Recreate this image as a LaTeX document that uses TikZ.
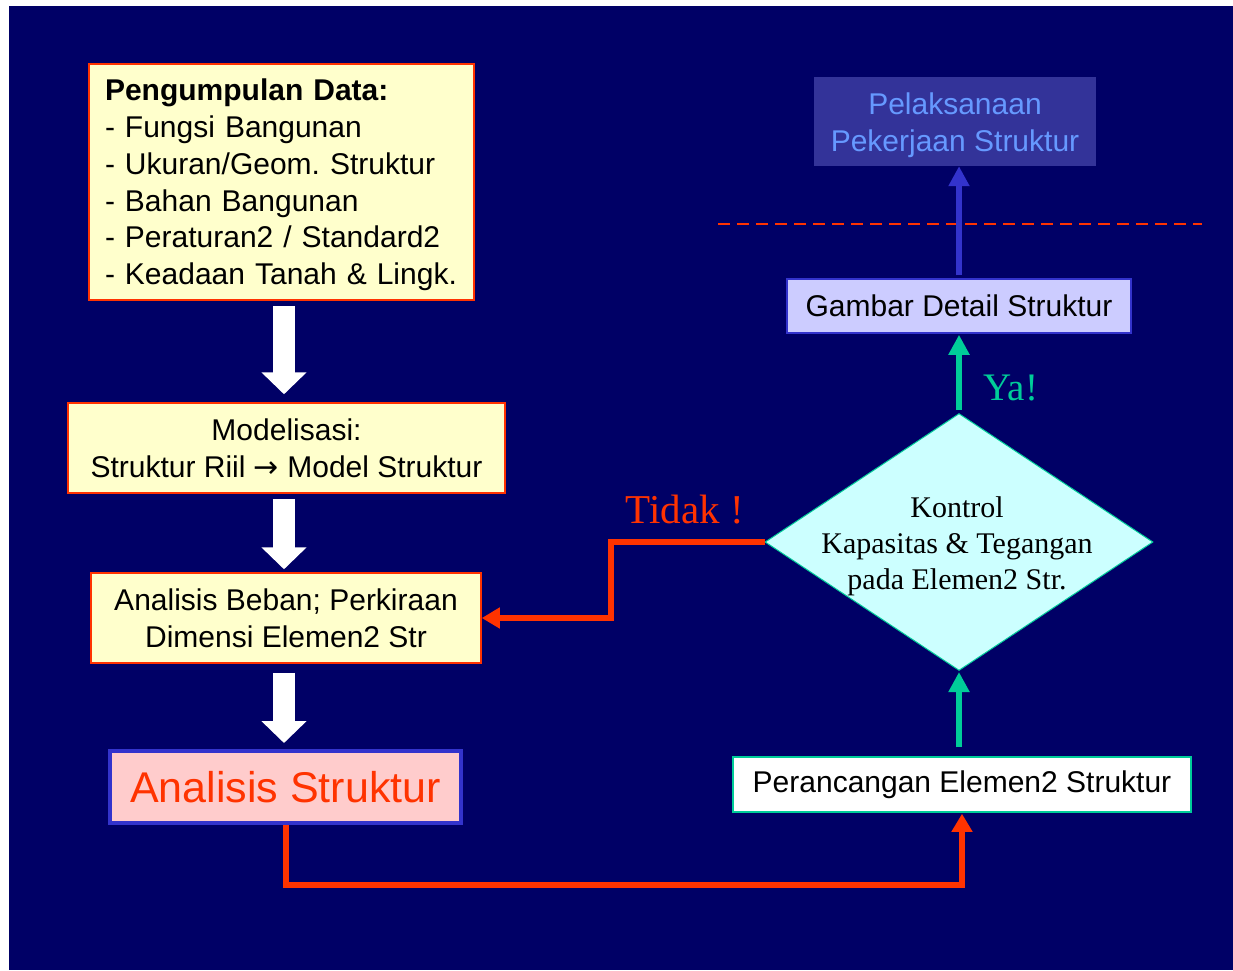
\documentclass[tikz,border=0pt]{standalone}
\usepackage{fontspec}
\setmainfont{Liberation Sans}
\newfontfamily\tnr{Liberation Serif}
\newfontfamily\djv{DejaVu Sans}
\usetikzlibrary{shapes.geometric,arrows.meta,calc}
\frenchspacing
\definecolor{navy}{HTML}{000066}
\definecolor{orred}{HTML}{FF3300}
\definecolor{lyellow}{HTML}{FFFFCC}
\definecolor{lpink}{HTML}{FFCCCC}
\definecolor{bblue}{HTML}{3333CC}
\definecolor{dblue}{HTML}{333399}
\definecolor{tblue}{HTML}{6699FF}
\definecolor{lviolet}{HTML}{CCCCFF}
\definecolor{lcyan}{HTML}{CCFFFF}
\definecolor{tgreen}{HTML}{00CC99}
\tikzset{
  ybox/.style={draw=orred, fill=lyellow, line width=1.5pt, inner sep=0pt, align=center,
    font=\fontsize{30}{36.8}\selectfont},
  bigwhite/.style={white, line width=22pt, -{Triangle[length=22pt,width=44pt]}},
  redln/.style={orred, line width=6pt, -{Triangle[length=18pt,width=20pt]}},
  grarrow/.style={tgreen, line width=6pt, -{Triangle[length=20pt,width=20pt]}},
  blarrow/.style={bblue, line width=6pt, -{Triangle[length=20pt,width=20pt]}},
}
\begin{document}
\begin{tikzpicture}[x=1pt,y=-1pt]
\useasboundingbox (0,0) rectangle (1233,970);
\fill[white] (0,0) rectangle (1233,970);
\fill[navy] (9,6) rectangle (1233,970);

% left column
\node[ybox, minimum width=385pt, minimum height=236pt] (b1) at (281.5,182) {};
\node[inner sep=0pt, text width=353pt, align=left, font=\fontsize{30}{36.8}\selectfont] (b1t)
  at ($(b1.center)+(0,3)$)
  {\textbf{Pengumpulan Data:}\\- Fungsi Bangunan\\- Ukuran/Geom. Struktur\\- Bahan Bangunan\\- Peraturan2 / Standard2\\- Keadaan Tanah \& Lingk.};
\node[ybox, minimum width=437pt, minimum height=90pt] (b2) at (286.5,448)
  {Modelisasi:\\Struktur Riil {\djv →} Model Struktur};
\node[ybox, minimum width=390pt, minimum height=90pt] (b3) at (286,618)
  {Analisis Beban; Perkiraan\\Dimensi Elemen2 Str};
\node[draw=bblue, line width=4pt, fill=lpink, inner sep=0pt, minimum width=351pt, minimum height=72pt,
  text=orred, font=\fontsize{43}{43}\selectfont] (b4) at (285.5,787) {Analisis Struktur};

% right column
\node[fill=dblue, inner sep=0pt, minimum width=282pt, minimum height=89pt] (p6) at (955,121.5) {};
\node[align=center, text=tblue, font=\fontsize{30}{36.8}\selectfont] (p6t) at ($(p6.center)+(0,4)$)
  {Pelaksanaan\\Pekerjaan Struktur};
\node[draw=bblue, line width=1.5pt, fill=lviolet, inner sep=0pt, minimum width=344pt, minimum height=54pt,
  font=\fontsize{30}{36}\selectfont] (g) at (959,306) {Gambar Detail Struktur};
\node[diamond, draw=tgreen, line width=1pt, fill=lcyan, inner sep=0pt, minimum width=388pt,
  minimum height=257pt] (d) at (959,542) {};
\node[align=center, font=\tnr\fontsize{30}{36}\selectfont] (dt) at ($(d.center)+(-2,4)$)
  {Kontrol\\Kapasitas \& Tegangan\\pada Elemen2 Str.};
\node[draw=tgreen, line width=1.5pt, fill=white, inner sep=0pt, minimum width=458pt, minimum height=55pt,
  font=\fontsize{30}{36}\selectfont] (pr) at (962,784.5) {Perancangan Elemen2 Struktur};

\node[text=orred, font=\tnr\fontsize{41}{41}\selectfont] (tidak) at (685,510) {Tidak !};
\node[text=tgreen, font=\tnr\fontsize{39}{39}\selectfont] (ya) at (1011,388) {Ya!};

% connectors
\coordinate (ax) at (284,0);
\draw[bigwhite, shorten <=5pt, shorten >=8pt] (b1.south -| ax) -- (b2.north -| ax);
\draw[bigwhite, shorten <=5pt, shorten >=3pt] (b2.south -| ax) -- (b3.north -| ax);
\draw[bigwhite, shorten <=9pt, shorten >=6pt] (b3.south -| ax) -- (b4.north -| ax);

\coordinate (bot) at (600,885);
\draw[redln, shorten >=1pt] (b4.south) |- (bot) -| (pr.south);
\coordinate (tk) at (611,0);
\draw[redln] (d.west) -- (d.west -| tk) |- (b3.east);

\draw[grarrow, shorten <=9pt, shorten >=1pt] (pr.north -| d.south) -- (d.south);
\draw[grarrow, shorten <=3pt, shorten >=1pt] (d.north) -- (g.south -| d.north);

\coordinate (dl) at (718,224);
\coordinate (dr) at (1202,224);
\draw[orred, line width=1.8pt, dash pattern=on 12pt off 7pt] (dl) -- (dr);
\draw[blarrow, shorten <=3pt, shorten >=0pt] (g.north) -- (p6.south -| g.north);
\end{tikzpicture}
\end{document}
